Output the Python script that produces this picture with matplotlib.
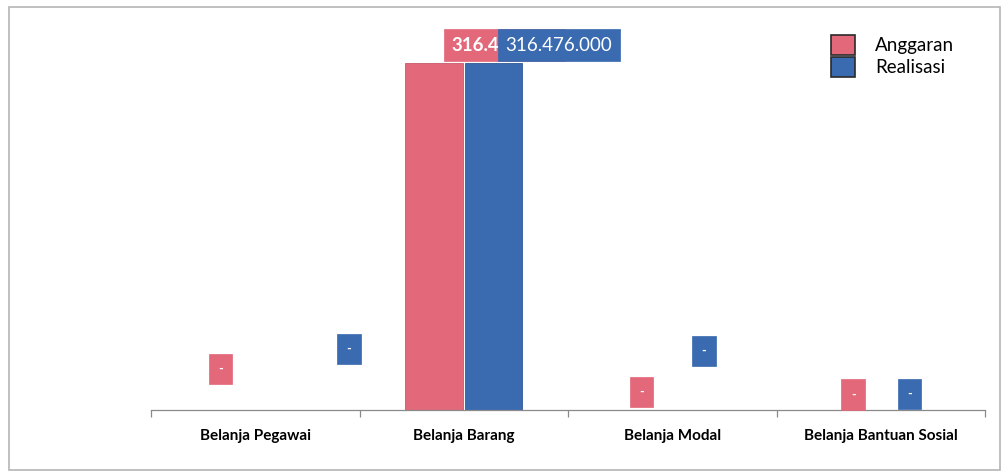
import matplotlib
matplotlib.use("Agg")
import matplotlib.pyplot as plt
from matplotlib.patches import Patch, Rectangle

categories = ["Belanja Pegawai", "Belanja Barang", "Belanja Modal", "Belanja Bantuan Sosial"]
anggaran = [0, 316476000, 0, 0]
realisasi = [0, 316476000, 0, 0]
series_names = ["Anggaran", "Realisasi"]

def fmt(v):
    return "-" if v == 0 else f"{v:,.0f}".replace(",", ".")

PINK = "#E2687A"
BLUE = "#3A6AB0"
FONT = ["Lato", "DejaVu Sans"]
plt.rcParams["font.family"] = FONT

W, H = 1005, 472
fig = plt.figure(figsize=(W / 100, H / 100), dpi=100)
# axes in pixel coordinates: left 151, right 985, bottom 410, top 30
ax = fig.add_axes([151 / W, (H - 410) / H, (985 - 151) / W, (410 - 30) / H])

vmax = max(anggaran + realisasi)
ax.set_ylim(0, vmax * 380 / 347)
ax.set_xlim(-0.5, len(categories) - 0.5)

bw = 0.275
off = 0.142
xs = list(range(len(categories)))
b1 = ax.bar([x - off for x in xs], anggaran, bw, color=PINK, edgecolor="#c75a6b", linewidth=0.6, zorder=2)
b2 = ax.bar([x + off for x in xs], realisasi, bw, color=BLUE, edgecolor="#2f5896", linewidth=0.6, zorder=2)

# label offsets in pixels (dx, dy) relative to bar top centre
pink_offsets = [(-5, 41), (17, 18), (-1, 18), (2, 15.5)]
blue_offsets = [(64, 61), (12, 18), (2, 59), (-1, 16)]

def label(x, v, dxdy, color, bold, z):
    dx, dy = dxdy
    txt = fmt(v)
    if v == 0:
        ax.annotate(txt, xy=(x, v), xytext=(dx, dy), textcoords="offset pixels",
                    ha="center", va="center", fontsize=9, color="white", fontweight="bold",
                    bbox=dict(boxstyle="square,pad=0.75", fc=color, ec=color, lw=0.5),
                    zorder=z, annotation_clip=False)
    else:
        ax.annotate(txt, xy=(x, v), xytext=(dx, dy), textcoords="offset pixels",
                    ha="left", va="center", fontsize=13.5, color="white",
                    fontweight="bold" if bold else "normal",
                    bbox=dict(boxstyle="square,pad=0.4", fc=color, ec=color, lw=0.5),
                    zorder=z, annotation_clip=False)

for i, x in enumerate(xs):
    label(x - off, anggaran[i], pink_offsets[i], PINK, True, 5)
for i, x in enumerate(xs):
    label(x + off, realisasi[i], blue_offsets[i], BLUE, False, 6)

for s in ["top", "right", "left"]:
    ax.spines[s].set_visible(False)
ax.spines["bottom"].set_color("#8a8a8a")
ax.spines["bottom"].set_linewidth(0.9)
ax.set_yticks([])
ax.set_xticks([i - 0.5 for i in range(len(categories) + 1)], minor=False)
ax.set_xticklabels([])
ax.set_xticks(xs, minor=True)
ax.set_xticklabels(categories, minor=True, fontsize=11, fontweight="bold")
ax.tick_params(axis="x", which="major", length=5, color="#8a8a8a", width=0.9)
ax.tick_params(axis="x", which="minor", length=0, pad=14)

handles = [Patch(facecolor=PINK, edgecolor="#2a2a2a", linewidth=1.2),
           Patch(facecolor=BLUE, edgecolor="#2a2a2a", linewidth=1.2)]
fig.legend(handles, series_names, loc="upper left",
           bbox_to_anchor=(818 / W, 1 - 22 / H), frameon=False, fontsize=13.5,
           handlelength=1.25, handleheight=1.25, handletextpad=1.1, labelspacing=0.1,
           borderpad=0.2)

# scanned frame
fig.patches.append(Rectangle((9 / W, 1 - 470 / H), (1000 - 9) / W, (470 - 7) / H,
                             transform=fig.transFigure, fill=False, ec="#b5b5b5", lw=1.2))

fig.savefig("out.png", dpi=100)
